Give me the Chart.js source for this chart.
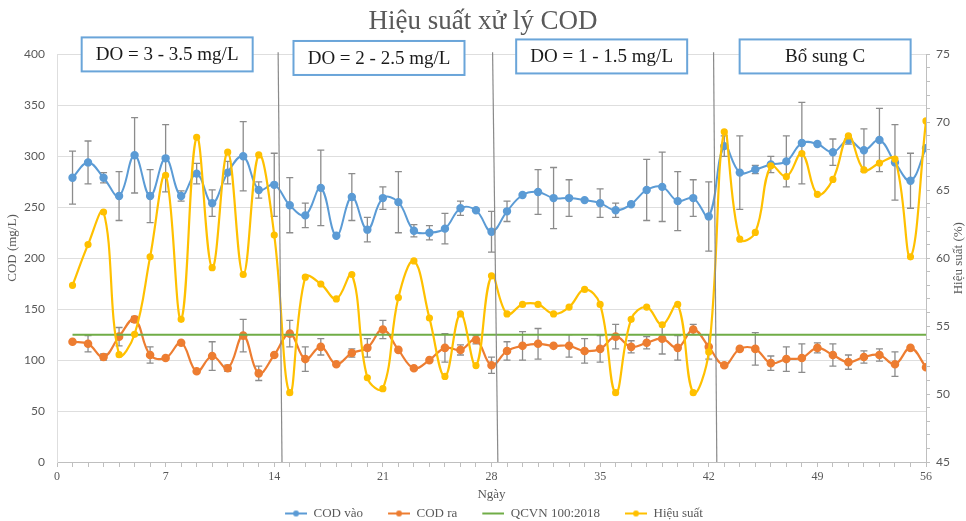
<!DOCTYPE html>
<html><head><meta charset="utf-8">
<script src="https://cdn.jsdelivr.net/npm/chart.js@4"></script>
<style>html,body{margin:0;padding:0;background:#fff}</style>
</head><body>
<canvas id="c" width="966" height="521"></canvas>
<script>
// ---------- DATA ----------
const days = [1,2,3,4,5,6,7,8,9,10,11,12,13,14,15,16,17,18,19,20,21,22,23,24,25,26,27,28,29,30,31,32,33,34,35,36,37,38,39,40,41,42,43,44,45,46,47,48,49,50,51,52,53,54,55,56];
const codIn = [279,294,279,261,301,261,298,261,283,254,284,300,267,272,252,242,269,222,260,228,259,255,227,225,229,249,247,226,246,262,265,259,259,257,254,247,253,267,270,256,259,241,310,284,287,292,295,313,312,304,316,306,316,294,276,308];
const codInErr = [26,21,5,24,37,26,33,5,10,13,11,34,8,31,27,12,37,0,23,12,11,30,6,7,15,7,0,20,10,0,22,30,18,0,14,7,0,30,34,29,18,34,10,36,4,8,25,40,0,13,4,21,31,37,27,0];
const codOut = [118,116,103,123,140,105,102,117,89,104,92,124,87,105,126,101,113,96,107,112,130,110,92,100,112,110,120,95,109,114,116,114,114,109,111,123,113,117,121,112,130,113,95,111,111,97,101,102,112,105,98,103,105,96,112,93];
const codOutErr = [0,8,3,9,3,8,0,0,0,14,3,16,7,0,13,12,8,0,4,9,9,0,0,0,14,5,4,8,9,14,15,0,11,12,13,12,6,6,15,12,5,12,0,0,16,7,12,14,5,11,7,6,6,12,0,0];
const qcvnLimit = [125,125];
const qcvnDays = [1,56];
const efficiency = [58.0,61.0,63.4,52.9,54.4,60.1,66.1,55.5,68.9,59.3,67.8,58.8,67.6,61.7,50.1,58.6,58.1,57.0,58.8,51.2,50.4,57.1,59.8,55.6,51.3,55.9,52.1,58.7,55.9,56.6,56.6,55.9,56.4,57.7,56.6,50.1,55.5,56.4,55.1,56.6,50.1,53.1,69.3,61.4,61.9,66.8,66.0,67.7,64.7,65.8,69.0,66.5,67.0,67.3,60.1,70.1];
const seriesNames = ['COD vào','COD ra','QCVN 100:2018','Hiệu suất'];
const phaseLabels = ['DO = 3 - 3.5 mg/L','DO = 2 - 2.5 mg/L','DO = 1 - 1.5 mg/L','Bổ sung C'];
const phaseLabelDay = [7.1, 20.75, 35.1, 49.5];
const phaseLabelValue = [400, 396.5, 398, 398];
const phaseBoundTopDay = [14.25, 28.07, 42.31];
const phaseBoundBottomDay = [14.5, 28.41, 42.52];
const phaseBoundValues = [402, 0];
const xTickLabels = [0,7,14,21,28,35,42,49,56];
const yTickLabels = [0,50,100,150,200,250,300,350,400];
const y1TickLabels = [45,50,55,60,65,70,75];

// ---------- STYLE ----------
const BLUE='#5B9BD5', ORANGE='#ED7D31', GREEN='#70AD47', YELLOW='#FFC000', GRAY='#595959';
const SERIF='"Liberation Serif", "Times New Roman", serif';
const SANS='Lato, "Liberation Sans", sans-serif';

function pts(xs, ys){ return xs.map((x,i)=>({x:x, y:ys[i]})); }

function legendIcon(color, marker){
  const c=document.createElement('canvas'); c.width=44; c.height=10;
  const g=c.getContext('2d'); g.strokeStyle=color; g.lineWidth=2;
  g.beginPath(); g.moveTo(22,5); g.lineTo(44,5); g.stroke();
  if(marker){ g.fillStyle=color; g.beginPath(); g.arc(33,5,3,0,Math.PI*2); g.fill(); }
  return c;
}
const icons=[legendIcon(BLUE,true),legendIcon(ORANGE,true),legendIcon(GREEN,false),legendIcon(YELLOW,true)];

const datasets=[
  {label:seriesNames[0], data:pts(days,codIn), errorBars:codInErr, yAxisID:'y', borderColor:BLUE, backgroundColor:BLUE, borderWidth:2, pointRadius:3.2, tension:0.4, order:3},
  {label:seriesNames[1], data:pts(days,codOut), errorBars:codOutErr, yAxisID:'y', borderColor:ORANGE, backgroundColor:ORANGE, borderWidth:2.2, pointRadius:3.2, tension:0.4, order:2},
  {label:seriesNames[2], data:pts(qcvnDays,qcvnLimit), yAxisID:'y', borderColor:GREEN, backgroundColor:GREEN, borderWidth:2, pointRadius:0, order:1},
  {label:seriesNames[3], data:pts(days,efficiency), yAxisID:'y1', borderColor:YELLOW, backgroundColor:YELLOW, borderWidth:2.2, pointRadius:2.5, tension:0.4, order:0},
];
phaseBoundTopDay.forEach((d,i)=>{
  datasets.push({label:'sep'+i, isSeparator:true, data:[{x:d,y:phaseBoundValues[0]},{x:phaseBoundBottomDay[i],y:phaseBoundValues[1]}], yAxisID:'y', borderColor:'#8a8a8a', borderWidth:1.2, pointRadius:0, tension:0, clip:false, order:-1});
});

const errorBarPlugin={
  id:'errorBars',
  beforeDatasetDraw(chart,args){
    const ds=chart.data.datasets[args.index]; if(!ds.errorBars) return;
    const xs=chart.scales.x, ys=chart.scales[ds.yAxisID], ctx=chart.ctx;
    ctx.save(); ctx.strokeStyle='#8c8c8c'; ctx.lineWidth=1.3;
    ds.data.forEach((p,i)=>{
      const e=ds.errorBars[i]; if(!e) return;
      const x=xs.getPixelForValue(p.x), t=ys.getPixelForValue(p.y+e), b=ys.getPixelForValue(p.y-e);
      ctx.beginPath(); ctx.moveTo(x,t); ctx.lineTo(x,b);
      ctx.moveTo(x-3.5,t); ctx.lineTo(x+3.5,t); ctx.moveTo(x-3.5,b); ctx.lineTo(x+3.5,b); ctx.stroke();
    });
    ctx.restore();
  }
};

const annotationPlugin={
  id:'phaseBoxes',
  afterDraw(chart){
    const ctx=chart.ctx, xs=chart.scales.x, ys=chart.scales.y;
    ctx.save();
    phaseLabels.forEach((t,i)=>{
      const cx=xs.getPixelForValue(phaseLabelDay[i]), cy=ys.getPixelForValue(phaseLabelValue[i]);
      const w=171, h=34;
      ctx.fillStyle='#fff'; ctx.fillRect(cx-w/2,cy-h/2,w,h);
      ctx.strokeStyle='#6aa5d9'; ctx.lineWidth=2; ctx.strokeRect(cx-w/2,cy-h/2,w,h);
      ctx.fillStyle='#1a1a1a'; ctx.font='19px '+SERIF; ctx.textAlign='center'; ctx.textBaseline='middle';
      ctx.fillText(t,cx,cy+1);
    });
    const ca=chart.chartArea;
    ctx.fillStyle=GRAY; ctx.font='13px '+SERIF; ctx.textAlign='center'; ctx.textBaseline='middle';
    // left axis title
    ctx.save(); ctx.translate(13,ys.getPixelForValue(210)); ctx.rotate(-Math.PI/2);
    ctx.fillText('COD (mg/L)',0,0); ctx.restore();
    // right axis title (reads bottom-to-top)
    ctx.save(); ctx.translate(959,(ca.top+ca.bottom)/2); ctx.rotate(-Math.PI/2);
    ctx.fillText('Hiệu suất (%)',0,0); ctx.restore();
    ctx.restore();
  }
};

new Chart(document.getElementById('c'),{
  type:'line',
  data:{datasets:datasets},
  plugins:[errorBarPlugin,annotationPlugin],
  options:{
    responsive:false, animation:false, devicePixelRatio:1,
    layout:{padding:{left:0,right:0,top:0,bottom:-9}},
    plugins:{
      title:{display:true,text:'Hiệu suất xử lý COD',color:GRAY,font:{family:SERIF,size:27,weight:'normal'},padding:{top:6,bottom:16}},
      legend:{position:'bottom',
        labels:{usePointStyle:true,pointStyleWidth:44,boxHeight:10,padding:3,color:GRAY,font:{family:SERIF,size:13},
          sort:(a,b)=>a.datasetIndex-b.datasetIndex,
          filter:(item,data)=>!data.datasets[item.datasetIndex].isSeparator,
          generateLabels(chart){
            const items=Chart.defaults.plugins.legend.labels.generateLabels(chart);
            items.forEach(it=>{ if(icons[it.datasetIndex]) it.pointStyle=icons[it.datasetIndex]; });
            return items;
          }}},
      tooltip:{enabled:false}
    },
    scales:{
      x:{type:'linear',min:0,max:56,
        afterBuildTicks(s){ s.ticks=[]; for(let i=0;i<=56;i++) s.ticks.push({value:i}); },
        afterFit(s){ s.height=42; },
        ticks:{autoSkip:false,maxRotation:0,padding:3,color:GRAY,font:{family:SERIF,size:12},
          callback:(v)=> xTickLabels.includes(v)? String(v):''},
        grid:{drawOnChartArea:false,drawTicks:true,tickLength:5,color:'#bfbfbf'},
        border:{display:true,color:'#bfbfbf'},
        title:{display:true,text:'Ngày',color:GRAY,font:{family:SERIF,size:13},padding:{top:0,bottom:2}}},
      y:{position:'left',min:0,max:400,
        afterBuildTicks(s){ s.ticks=yTickLabels.map(v=>({value:v})); },
        afterFit(s){ s.width=57; },
        ticks:{padding:12,color:GRAY,font:{family:SANS,size:12}},
        grid:{color:'#dedede',drawTicks:false},
        border:{display:true,color:'#dedede'}},
      y1:{position:'right',min:45,max:75,
        afterBuildTicks(s){ s.ticks=[]; for(let v=45;v<=75;v++) s.ticks.push({value:v}); },
        afterFit(s){ s.width=40; },
        ticks:{autoSkip:false,padding:6,color:GRAY,font:{family:SANS,size:12},
          callback:(v)=> y1TickLabels.includes(v)? String(v):''},
        grid:{drawOnChartArea:false,drawTicks:true,tickLength:4,color:'#bfbfbf'},
        border:{display:true,color:'#bfbfbf'}}
    }
  }
});
</script>
</body></html>
